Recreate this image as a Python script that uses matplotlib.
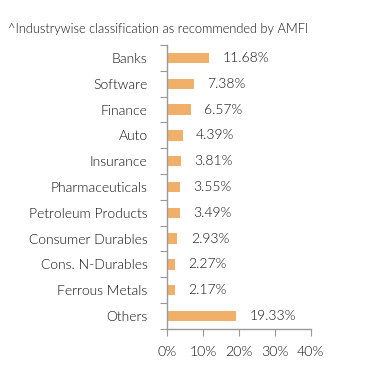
import numpy as np
import matplotlib
matplotlib.use("Agg")
import matplotlib.pyplot as plt

# Industry allocation (top to bottom)
industries = ["Banks", "Software", "Finance", "Auto", "Insurance", "Pharmaceuticals",
              "Petroleum Products", "Consumer Durables", "Cons. N-Durables",
              "Ferrous Metals", "Others"]
weights = [11.68, 7.38, 6.57, 4.39, 3.81, 3.55, 3.49, 2.93, 2.27, 2.17, 19.33]
xticks = [0, 10, 20, 30, 40]

plt.rcParams["font.family"] = ["Lato", "DejaVu Sans"]
plt.rcParams["font.weight"] = 300
txt = "#111111"

fig = plt.figure(figsize=(3.91, 3.82), dpi=100)
ax = fig.add_axes([0.427, 0.139, 0.368, 0.743])

y = np.arange(len(industries))
ax.barh(y, weights, height=0.4, color="#F0B06A", zorder=2)
for yi, v in zip(y, weights):
    ax.text(v + 3.7, yi, f"{v:.2f}%", va="center", ha="left",
            fontsize=10, color=txt)

ax.set_xlim(0, 40)
ax.set_ylim(len(industries) - 0.5, -0.5)
ax.set_xticks(xticks)
ax.set_xticklabels([f"{t}%" for t in xticks], fontsize=10.2, color=txt)

# category labels centred, tick marks between categories
ax.set_yticks(np.arange(-0.5, len(industries), 1.0))
ax.set_yticklabels([])
ax.set_yticks(y, minor=True)
ax.set_yticklabels(industries, minor=True, fontsize=10, color=txt)
ax.tick_params(axis="y", which="minor", length=0, pad=14)
ax.tick_params(axis="y", which="major", length=5, color="#999999")
ax.tick_params(axis="x", length=5, color="#999999", pad=7)

for s in ["top", "right"]:
    ax.spines[s].set_visible(False)
for s in ["left", "bottom"]:
    ax.spines[s].set_color("#999999")
    ax.spines[s].set_linewidth(1.0)

fig.text(0.02, 0.923, "^Industrywise classification as recommended by AMFI",
         fontsize=9.3, color=txt, ha="left", va="center")

fig.savefig("out.png", dpi=100)
